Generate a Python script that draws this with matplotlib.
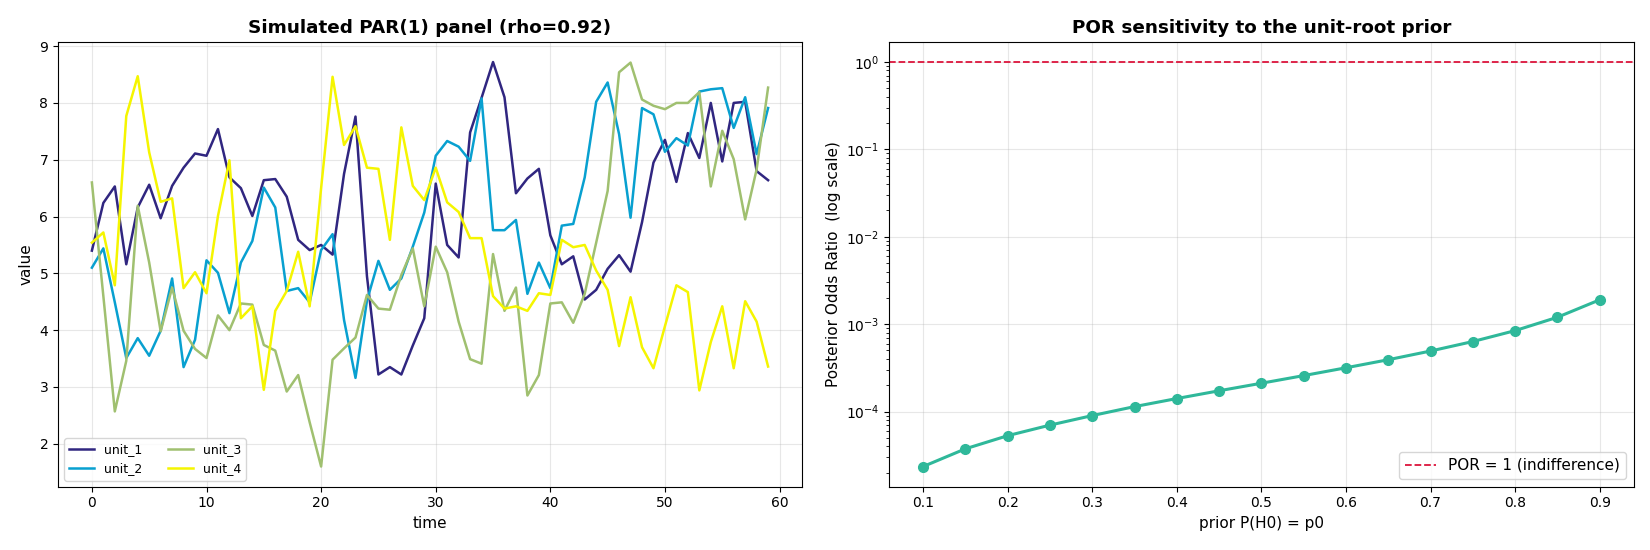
import numpy as np
import matplotlib
matplotlib.use("Agg")
import matplotlib.pyplot as plt

time = list(range(60))
unit_1 = [5.40, 6.24, 6.53, 5.16, 6.16, 6.56, 5.97, 6.54, 6.86, 7.11, 7.07, 7.54, 6.69, 6.50, 6.01,
          6.64, 6.66, 6.35, 5.59, 5.41, 5.50, 5.33, 6.75, 7.76, 4.95, 3.22, 3.35, 3.22, 3.73, 4.21,
          6.58, 5.50, 5.28, 7.48, 8.09, 8.72, 8.10, 6.41, 6.67, 6.84, 5.67, 5.16, 5.30, 4.54, 4.71,
          5.08, 5.32, 5.03, 5.90, 6.95, 7.35, 6.61, 7.47, 7.03, 8.00, 6.97, 8.00, 8.02, 6.80, 6.64]
unit_2 = [5.10, 5.44, 4.49, 3.51, 3.86, 3.55, 3.99, 4.91, 3.35, 3.83, 5.23, 5.01, 4.30, 5.19, 5.57,
          6.51, 6.16, 4.69, 4.74, 4.49, 5.41, 5.69, 4.18, 3.16, 4.52, 5.22, 4.71, 4.91, 5.47, 6.07,
          7.07, 7.33, 7.23, 6.98, 8.08, 5.76, 5.76, 5.94, 4.64, 5.19, 4.74, 5.84, 5.87, 6.69, 8.02,
          8.36, 7.45, 5.98, 7.91, 7.80, 7.14, 7.38, 7.25, 8.20, 8.24, 8.26, 7.56, 8.10, 7.10, 7.91]
unit_3 = [6.60, 4.60, 2.57, 3.46, 6.19, 5.19, 3.98, 4.75, 3.99, 3.67, 3.51, 4.26, 4.00, 4.47, 4.45,
          3.74, 3.64, 2.92, 3.21, 2.38, 1.60, 3.48, 3.68, 3.87, 4.62, 4.38, 4.36, 4.97, 5.44, 4.42,
          5.47, 5.02, 4.15, 3.49, 3.41, 5.34, 4.34, 4.75, 2.85, 3.21, 4.47, 4.49, 4.13, 4.64, 5.54,
          6.45, 8.54, 8.71, 8.06, 7.95, 7.89, 8.00, 8.00, 8.19, 6.53, 7.51, 7.01, 5.95, 6.83, 8.27]
unit_4 = [5.54, 5.72, 4.79, 7.77, 8.47, 7.13, 6.26, 6.32, 4.74, 5.02, 4.65, 6.01, 6.99, 4.21, 4.42,
          2.95, 4.34, 4.69, 5.38, 4.42, 6.50, 8.46, 7.26, 7.59, 6.86, 6.84, 5.59, 7.57, 6.54, 6.29,
          6.86, 6.25, 6.08, 5.62, 5.62, 4.60, 4.38, 4.42, 4.34, 4.65, 4.62, 5.59, 5.46, 5.50, 5.05,
          4.71, 3.72, 4.58, 3.70, 3.33, 4.07, 4.79, 4.67, 2.94, 3.79, 4.42, 3.33, 4.51, 4.15, 3.36]
unit_names = ["unit_1", "unit_2", "unit_3", "unit_4"]
unit_colors = ["#302680", "#08a0d0", "#a0c070", "#f5f500"]

p0 = [0.1, 0.15, 0.2, 0.25, 0.3, 0.35, 0.4, 0.45, 0.5, 0.55, 0.6, 0.65, 0.7, 0.75, 0.8, 0.85, 0.9]
por = [2.35e-5, 3.75e-5, 5.3e-5, 7.0e-5, 9.0e-5, 1.14e-4, 1.41e-4, 1.73e-4, 2.11e-4, 2.58e-4,
       3.17e-4, 3.92e-4, 4.93e-4, 6.33e-4, 8.44e-4, 1.20e-3, 1.90e-3]

fig = plt.figure(figsize=(16.5, 5.5), dpi=100)
ax1 = fig.add_axes([0.0352, 0.115, 0.4508, 0.809])
ax2 = fig.add_axes([0.539, 0.115, 0.451, 0.809])

for name, vals, col in zip(unit_names, [unit_1, unit_2, unit_3, unit_4], unit_colors):
    ax1.plot(time, vals, color=col, lw=1.8, label=name)
ax1.set_title("Simulated PAR(1) panel (rho=0.92)", fontweight="bold", fontsize=13.2)
ax1.set_xlabel("time", fontsize=11)
ax1.set_ylabel("value", fontsize=11)
ax1.grid(True, alpha=0.3)
ax1.legend(loc="lower left", ncol=2, fontsize=9)

ax2.plot(p0, por, "-o", color="#2fb89a", lw=2.2, ms=7)
ax2.axhline(1.0, color="crimson", ls="--", lw=1.3, label="POR = 1 (indifference)")
ax2.set_yscale("log")
ax2.set_title("POR sensitivity to the unit-root prior", fontweight="bold", fontsize=13.2)
ax2.set_xlabel("prior P(H0) = p0", fontsize=11)
ax2.set_ylabel("Posterior Odds Ratio  (log scale)", fontsize=11)
ax2.grid(True, alpha=0.3)
ax2.legend(loc="lower right", fontsize=11)

fig.savefig("out.png", dpi=100)
